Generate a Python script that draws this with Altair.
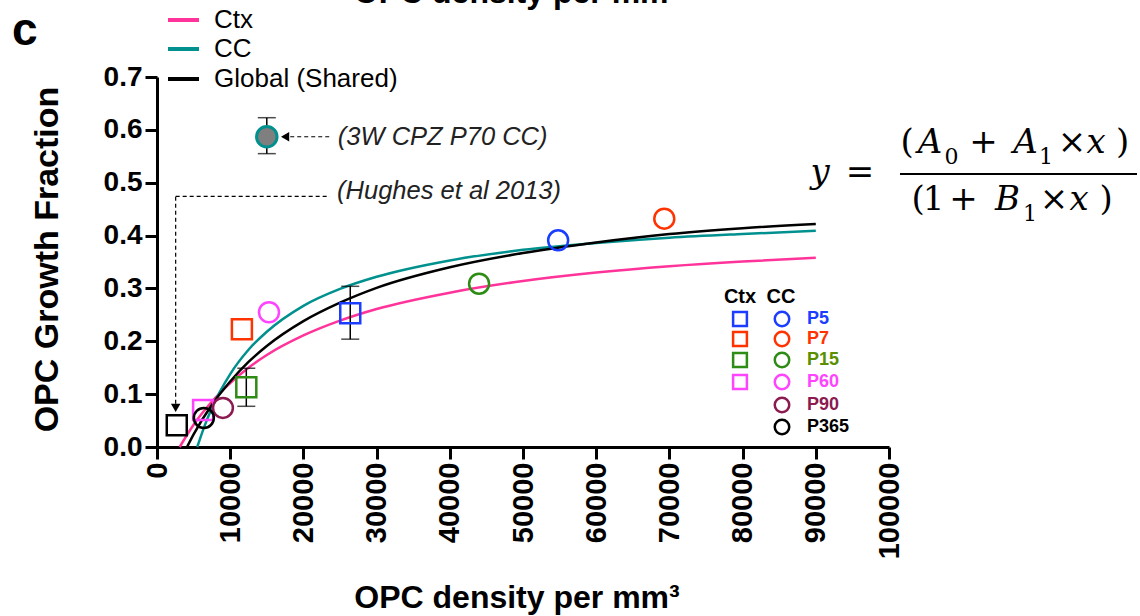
import altair as alt
import pandas as pd

# ---------------- data ----------------
ages = ["P5", "P7", "P15", "P60", "P90", "P365"]
age_colors = ["#1a3dff", "#ff3300", "#2e8b14", "#ff44ff", "#8b1a50", "#000000"]
age_label_colors = ["#1a3dff", "#ff3300", "#5b8f00", "#ff44ff", "#8b1a50", "#000000"]

# Ctx (squares)
ctx_age = ["P5", "P7", "P15", "P60", "P365"]
ctx_density = [26400, 11600, 12200, 6300, 2700]
ctx_growth = [0.253, 0.223, 0.113, 0.070, 0.041]
ctx_err_density = [26400, 12200]
ctx_err_low = [0.204, 0.077]
ctx_err_high = [0.304, 0.149]

# CC (circles)
cc_age = ["P5", "P7", "P15", "P60", "P90", "P365"]
cc_density = [54800, 69300, 44000, 15300, 9000, 6400]
cc_growth = [0.391, 0.432, 0.309, 0.255, 0.074, 0.055]

# 3W CPZ P70 CC
cpz_density = [15000]
cpz_growth = [0.587]
cpz_low = [0.555]
cpz_high = [0.623]

# fitted curves
fit_ctx_x = [3100, 5000, 7500, 10000, 12500, 15000, 20000, 25000, 30000, 40000, 50000, 60000, 70000, 80000, 90000]
fit_ctx_y = [0.0, 0.042, 0.086, 0.121, 0.150, 0.174, 0.211, 0.239, 0.261, 0.292, 0.314, 0.330, 0.342, 0.351, 0.358]
fit_cc_x = [5500, 6500, 7500, 10000, 12500, 15000, 20000, 25000, 30000, 40000, 50000, 60000, 70000, 80000, 90000]
fit_cc_y = [0.0, 0.040, 0.074, 0.138, 0.184, 0.218, 0.267, 0.299, 0.322, 0.353, 0.373, 0.386, 0.396, 0.403, 0.409]
fit_gl_x = [4100, 5000, 7500, 10000, 12500, 15000, 20000, 25000, 30000, 40000, 50000, 60000, 70000, 80000, 90000]
fit_gl_y = [0.0, 0.024, 0.080, 0.124, 0.161, 0.191, 0.238, 0.273, 0.301, 0.340, 0.367, 0.387, 0.403, 0.414, 0.422]

series_names = ["Ctx", "CC", "Global (Shared)"]
series_colors = ["#ff3399", "#00918e", "#000000"]

x_ticks = [0, 10000, 20000, 30000, 40000, 50000, 60000, 70000, 80000, 90000, 100000]
y_ticks = [0.0, 0.1, 0.2, 0.3, 0.4, 0.5, 0.6, 0.7]

# ---------------- tables ----------------
col_of = dict(zip(ages, age_colors))
fit_df = pd.concat([
    pd.DataFrame({"density": fit_ctx_x, "growth": fit_ctx_y, "series": series_names[0], "color": series_colors[0]}),
    pd.DataFrame({"density": fit_cc_x, "growth": fit_cc_y, "series": series_names[1], "color": series_colors[1]}),
    pd.DataFrame({"density": fit_gl_x, "growth": fit_gl_y, "series": series_names[2], "color": series_colors[2]}),
])
ctx_df = pd.DataFrame({"density": ctx_density, "growth": ctx_growth,
                       "color": [col_of[a] for a in ctx_age]})
cc_df = pd.DataFrame({"density": cc_density, "growth": cc_growth,
                      "color": [col_of[a] for a in cc_age]})
err_df = pd.DataFrame({"density": ctx_err_density + cpz_density,
                       "lo": ctx_err_low + cpz_low, "hi": ctx_err_high + cpz_high})
cap_df = pd.DataFrame({"density": (ctx_err_density + cpz_density) * 2,
                       "growth": ctx_err_low + cpz_low + ctx_err_high + cpz_high})
cpz_df = pd.DataFrame({"density": cpz_density, "growth": cpz_growth})

FONT = "Liberation Sans"
xs = alt.Scale(domain=[0, 100000], nice=False, zero=False)
ys = alt.Scale(domain=[0, 0.7], nice=False, zero=False)
xaxis = alt.Axis(values=x_ticks, format="d", labelAngle=270, labelFontSize=29, labelFont=FONT,
                 labelFontWeight="bold", labelColor="black", tickSize=12, tickWidth=3, tickColor="black",
                 domainWidth=3, domainColor="black", labelPadding=3, grid=False, labelOverlap=False,
                 labelFlush=False, title="OPC density per mm³", titleFont=FONT, titleFontSize=32,
                 titleFontWeight="bold", titleColor="black", titleX=359.5, titleY=160,
                 titleBaseline="alphabetic", titleAlign="center")
yaxis = alt.Axis(values=y_ticks, format=".1f", labelFontSize=28, labelFont=FONT, labelFontWeight="bold",
                 labelColor="black", tickSize=12, tickWidth=3, tickColor="black", domainWidth=3,
                 domainColor="black", labelPadding=3, grid=False, labelOverlap=False, labelFlush=False,
                 title="OPC Growth Fraction", titleFont=FONT, titleFontSize=34, titleFontWeight="bold",
                 titleColor="black", titleAngle=270, titleX=-100, titleY=182, titleAlign="center",
                 titleBaseline="alphabetic")
X = alt.X("density:Q", scale=xs, axis=xaxis)
Y = alt.Y("growth:Q", scale=ys, axis=yaxis)

curves = alt.Chart(fit_df).mark_line(interpolate="monotone", strokeWidth=2.5).encode(
    x=X, y=Y, detail="series:N", color=alt.Color("color:N", scale=None))

err_rules = alt.Chart(err_df).mark_rule(color="black", strokeWidth=1.5).encode(
    x=X, y=alt.Y("lo:Q", scale=ys, axis=yaxis), y2="hi:Q")
err_caps = alt.Chart(cap_df).mark_tick(orient="horizontal", size=18, thickness=1.5, color="black").encode(x=X, y=Y)

squares = alt.Chart(ctx_df).mark_point(shape="square", filled=False, size=400, strokeWidth=2.5, opacity=1).encode(
    x=X, y=Y, color=alt.Color("color:N", scale=None))
circles = alt.Chart(cc_df).mark_point(shape="circle", filled=False, size=400, strokeWidth=2.5, opacity=1).encode(
    x=X, y=Y, color=alt.Color("color:N", scale=None))
cpz = alt.Chart(cpz_df).mark_point(shape="circle", size=420, fill="#7f7f7f", stroke="#00918e",
                                   strokeWidth=3, fillOpacity=1, strokeOpacity=1).encode(x=X, y=Y)

# annotations (data coordinates)
ann_h = pd.DataFrame({"density": [18200, 2550], "d2": [23600, 23600], "growth": [0.587, 0.474]})
dash_h = alt.Chart(ann_h).mark_rule(color="black", strokeWidth=1.2, strokeDash=[4, 3]).encode(
    x=X, x2="d2:Q", y=Y)
ann_v = pd.DataFrame({"density": [2550], "lo": [0.082], "hi": [0.474]})
dash_v = alt.Chart(ann_v).mark_rule(color="black", strokeWidth=1.2, strokeDash=[4, 3]).encode(
    x=X, y=alt.Y("lo:Q", scale=ys, axis=yaxis), y2="hi:Q")
arr_l = alt.Chart(pd.DataFrame({"density": [17500], "growth": [0.587]})).mark_point(
    shape="triangle-left", filled=True, color="black", size=90, opacity=1).encode(x=X, y=Y)
arr_d = alt.Chart(pd.DataFrame({"density": [2550], "growth": [0.074]})).mark_point(
    shape="triangle-down", filled=True, color="black", size=90, opacity=1).encode(x=X, y=Y)
ann_txt = pd.DataFrame({"density": [24700, 24600], "growth": [0.587, 0.485],
                        "t": ["(3W CPZ P70 CC)", "(Hughes et al 2013)"]})
ann_text = alt.Chart(ann_txt).mark_text(font=FONT, fontSize=25.5, fontStyle="italic", align="left",
                                        baseline="middle", color="#222222").encode(x=X, y=Y, text="t:N")

# ---------------- pixel-positioned decorations ----------------
PX = lambda f: alt.X(f, scale=None)
PY = lambda f: alt.Y(f, scale=None)

leg_df = pd.DataFrame({"t": series_names, "color": series_colors, "py": [-57, -28, 2],
                       "x1": [11] * 3, "x2": [42] * 3, "tx": [57] * 3})
leg_lines = alt.Chart(leg_df).mark_rule(strokeWidth=4).encode(
    x=PX("x1:Q"), x2="x2:Q", y=PY("py:Q"), color=alt.Color("color:N", scale=None))
leg_text = alt.Chart(leg_df).mark_text(font=FONT, fontSize=26, align="left", baseline="middle",
                                       color="black").encode(x=PX("tx:Q"), y=PY("py:Q"), text="t:N")

inset_rows = [242, 262, 283, 305, 328, 350]
ins_head = alt.Chart(pd.DataFrame({"t": ["Ctx", "CC"], "px": [583, 624], "py": [220, 220]})).mark_text(
    font=FONT, fontSize=20, fontWeight="bold", baseline="middle", align="center", color="black").encode(
    x=PX("px:Q"), y=PY("py:Q"), text="t:N")
ins_sq = alt.Chart(pd.DataFrame({"px": [583] * 4, "py": inset_rows[:4], "color": age_colors[:4]})).mark_point(
    shape="square", filled=False, size=190, strokeWidth=2.5, opacity=1).encode(
    x=PX("px:Q"), y=PY("py:Q"), color=alt.Color("color:N", scale=None))
ins_ci = alt.Chart(pd.DataFrame({"px": [625] * 6, "py": inset_rows, "color": age_colors})).mark_point(
    shape="circle", filled=False, size=210, strokeWidth=2.5, opacity=1).encode(
    x=PX("px:Q"), y=PY("py:Q"), color=alt.Color("color:N", scale=None))
ins_lab = alt.Chart(pd.DataFrame({"t": ages, "px": [650] * 6, "py": inset_rows, "color": age_label_colors})).mark_text(
    font=FONT, fontSize=18, fontWeight="bold", align="left", baseline="middle").encode(
    x=PX("px:Q"), y=PY("py:Q"), text="t:N", color=alt.Color("color:N", scale=None))

# equation y = (A0 + A1 x) / (1 + B1 x)
EQF = "DejaVu Serif"
eq_it = alt.Chart(pd.DataFrame({"t": ["y", "A", "A", "x", "B", "x"],
                                "px": [663, 773, 868.5, 939, 850.5, 922],
                                "py": [106, 76, 76, 76, 133, 133]})).mark_text(
    font=EQF, fontSize=34, fontStyle="italic", align="center", baseline="alphabetic", color="black").encode(
    x=PX("px:Q"), y=PY("py:Q"), text="t:N")
eq_up = alt.Chart(pd.DataFrame({"t": ["=", "(", "+", "×", ")", "(", "1", "+", "×", ")"],
                                "px": [703, 750, 826.5, 915, 965.5, 761, 776.5, 806.5, 897, 949],
                                "py": [106, 76, 76, 76, 76, 133, 133, 133, 133, 133]})).mark_text(
    font=EQF, fontSize=34, align="center", baseline="alphabetic", color="black").encode(
    x=PX("px:Q"), y=PY("py:Q"), text="t:N")
eq_sub = alt.Chart(pd.DataFrame({"t": ["0", "1", "1"], "px": [794.5, 889, 873], "py": [87, 87, 144]})).mark_text(
    font=EQF, fontSize=22, align="center", baseline="alphabetic", color="black").encode(
    x=PX("px:Q"), y=PY("py:Q"), text="t:N")
eq_bar = alt.Chart(pd.DataFrame({"x1": [743], "x2": [980], "py": [97]})).mark_rule(
    color="black", strokeWidth=2).encode(x=PX("x1:Q"), x2="x2:Q", y=PY("py:Q"))

panel = alt.Chart(pd.DataFrame({"t": ["c"], "px": [-145], "py": [-32]})).mark_text(
    font=FONT, fontSize=46, fontWeight="bold", align="left", baseline="alphabetic", color="black").encode(
    x=PX("px:Q"), y=PY("py:Q"), text="t:N")
top_title = alt.Chart(pd.DataFrame({"t": ["OPC density per mm³"], "px": [359.5], "py": [-74]})).mark_text(
    font=FONT, fontSize=32, fontWeight="bold", align="center", baseline="alphabetic", color="black").encode(
    x=PX("px:Q"), y=PY("py:Q"), text="t:N")

chart = alt.layer(
    curves, err_rules, err_caps, squares, circles, cpz,
    dash_h, dash_v, arr_l, arr_d, ann_text,
    leg_lines, leg_text, ins_head, ins_sq, ins_ci, ins_lab,
    eq_it, eq_up, eq_sub, eq_bar, panel, top_title,
).properties(
    width=732, height=370,
    autosize=alt.AutoSizeParams(type="none"),
    padding={"left": 157, "top": 77, "right": 251, "bottom": 169},
    background="white",
).configure_view(stroke=None)

chart.save("out.html", embed_options={"renderer": "svg", "actions": False})
